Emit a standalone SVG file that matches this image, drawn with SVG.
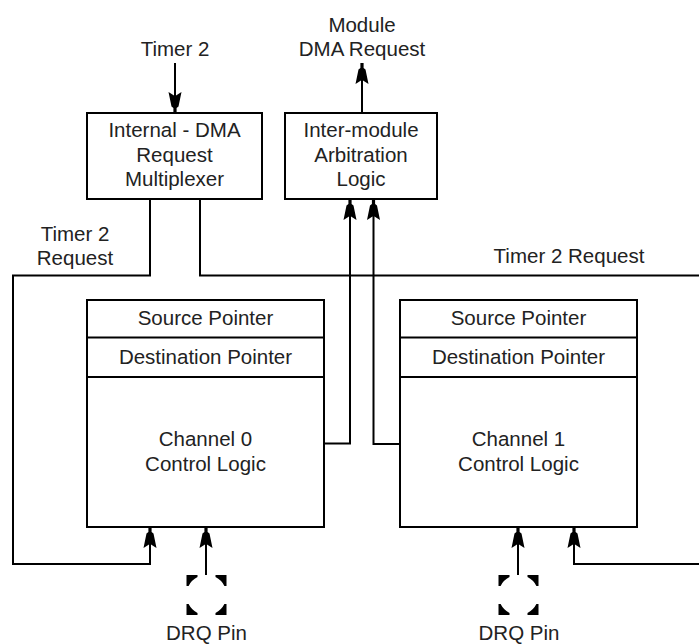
<svg xmlns="http://www.w3.org/2000/svg" width="699" height="644" viewBox="0 0 699 644">
<style>
  .box { fill: #fff; stroke: #000; stroke-width: 2; }
  .div { stroke: #000; stroke-width: 2; }
  .wire { fill: none; stroke: #000; stroke-width: 2; marker-end: url(#arr); }
  .wire.plain { marker-end: none; }
  text { font-family: "Liberation Sans", Arial, Helvetica, sans-serif; font-size: 20.5px; fill: #222; text-anchor: middle; }
  .pin { fill: #000; }
</style>
<defs>
  <marker id="arr" markerUnits="userSpaceOnUse" orient="auto" refX="0" refY="0" markerWidth="30" markerHeight="20" viewBox="-24 -10 26 20" overflow="visible">
    <path d="M0,-1.6 L-5,-1.6 L-6.5,-3.5 L-21,-6.5 L-17.5,-1 L-17.5,1 L-21,6.5 L-6.5,3.5 L-5,1.6 L0,1.6 Z" fill="#000"/>
  </marker>
  <path id="corner" d="M-20,-20 H-9 V-17.9 A20,20 0 0 0 -17.9,-9 H-20 Z"/>
  <g id="pinsym" class="pin">
    <use href="#corner"/>
    <use href="#corner" transform="rotate(90)"/>
    <use href="#corner" transform="rotate(180)"/>
    <use href="#corner" transform="rotate(270)"/>
  </g>
</defs>

<g id="connectors">
  <path class="wire" d="M175,63 V113"/>
  <path class="wire" d="M362,113 V63"/>
  <path class="wire" d="M324,443.5 H350 V199"/>
  <path class="wire" d="M400,444 H373.5 V199"/>
  <path class="wire" d="M150,199 V275.5 H13 V564 H150 V527"/>
  <path class="wire" d="M200,199 V275.5 H710 V564 H574 V527"/>
  <path class="wire" d="M206,575 V527"/>
  <path class="wire" d="M518,575 V527"/>
</g>

<g id="timer2-label"><text x="175" y="56">Timer 2</text></g>
<g id="module-dma-label">
  <text x="362" y="32">Module</text>
  <text x="362" y="56">DMA Request</text>
</g>

<g id="mux">
  <rect class="box" x="87" y="113" width="175" height="86"/>
  <text x="174.5" y="137">Internal - DMA</text>
  <text x="174.5" y="161.5">Request</text>
  <text x="174.5" y="186">Multiplexer</text>
</g>

<g id="arbiter">
  <rect class="box" x="285" y="113" width="152" height="86"/>
  <text x="361" y="137">Inter-module</text>
  <text x="361" y="161.5">Arbitration</text>
  <text x="361" y="186">Logic</text>
</g>

<g id="timer2-request-left">
  <text x="75" y="241">Timer 2</text>
  <text x="75" y="265">Request</text>
</g>
<g id="timer2-request-right"><text x="569" y="263">Timer 2 Request</text></g>

<g id="channel0">
  <rect class="box" x="87" y="300" width="237" height="227"/>
  <line class="div" x1="87" y1="337.5" x2="324" y2="337.5"/>
  <line class="div" x1="87" y1="377" x2="324" y2="377"/>
  <text x="205.5" y="325">Source Pointer</text>
  <text x="205.5" y="364">Destination Pointer</text>
  <text x="205.5" y="446">Channel 0</text>
  <text x="205.5" y="471">Control Logic</text>
</g>

<g id="channel1">
  <rect class="box" x="400" y="300" width="237" height="227"/>
  <line class="div" x1="400" y1="337.5" x2="637" y2="337.5"/>
  <line class="div" x1="400" y1="377" x2="637" y2="377"/>
  <text x="518.5" y="325">Source Pointer</text>
  <text x="518.5" y="364">Destination Pointer</text>
  <text x="518.5" y="446">Channel 1</text>
  <text x="518.5" y="471">Control Logic</text>
</g>

<g id="drq0">
  <use href="#pinsym" transform="translate(206.5,595)"/>
  <text x="206.5" y="640">DRQ Pin</text>
</g>
<g id="drq1">
  <use href="#pinsym" transform="translate(518.5,595)"/>
  <text x="519" y="640">DRQ Pin</text>
</g>
</svg>
